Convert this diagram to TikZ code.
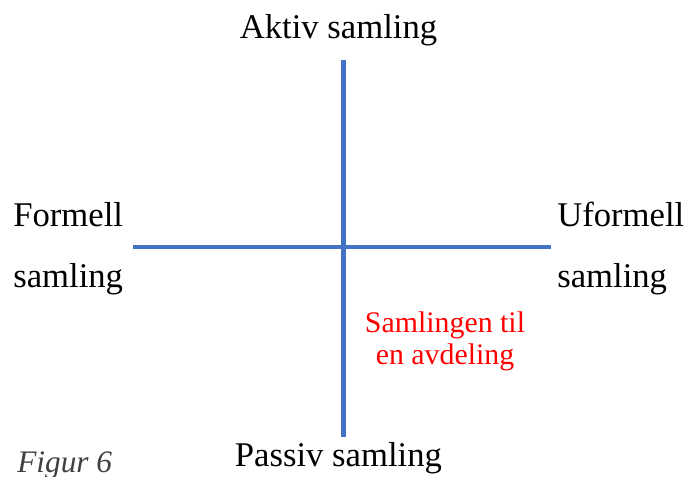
\documentclass[tikz,border=0pt]{standalone}
\usepackage{fontspec}
\setmainfont{Liberation Serif}
\usepackage{xcolor}
\definecolor{axisblue}{RGB}{68,114,196}
\definecolor{notered}{RGB}{255,0,0}
\definecolor{captiongray}{RGB}{64,64,64}
\usetikzlibrary{positioning}
\tikzset{
  axisline/.style ={draw=axisblue,line width=3.4pt},
  polelabel/.style={inner sep=0pt,font=\fontsize{26}{30}\selectfont},
  notelabel/.style={inner sep=0pt,text=notered,font=\fontsize{22.4}{26}\selectfont},
  caption/.style  ={inner sep=0pt,text=captiongray,font=\itshape\fontsize{23.5}{27}\selectfont},
}
\begin{document}
\begin{tikzpicture}[x=0.75pt,y=-0.75pt]
  \useasboundingbox (0,0) rectangle (687,477);
  % axis end points
  \coordinate (top) at (343.5,60);
  \coordinate (bottom) at (343.5,437);
  \coordinate (left) at (133,247);
  \coordinate (right) at (551,247);
  \draw[axisline] (top) -- (bottom);
  \draw[axisline] (left) -- (right);
  % pole labels
  \node[polelabel,anchor=base] (aktiv) at (338.5,39) {Aktiv samling};
  \node[polelabel,anchor=base] (passiv) at (338.5,467) {Passiv samling};
  \node[polelabel,anchor=base west] (formell) at (13,227) {Formell};
  \node[polelabel,anchor=base west] (formellb) at (13,288) {samling};
  \node[polelabel,anchor=base west] (uformell) at (557,227) {Uformell};
  \node[polelabel,anchor=base west] (uformellb) at (557,288) {samling};
  % quadrant note
  \node[notelabel,anchor=base] (avdeling) at (445,333) {Samlingen til};
  \node[notelabel,anchor=base] (avdelingb) at (445,365) {en avdeling};
  \node[caption,anchor=base west] (figur) at (17,473) {Figur 6};
\end{tikzpicture}
\end{document}
